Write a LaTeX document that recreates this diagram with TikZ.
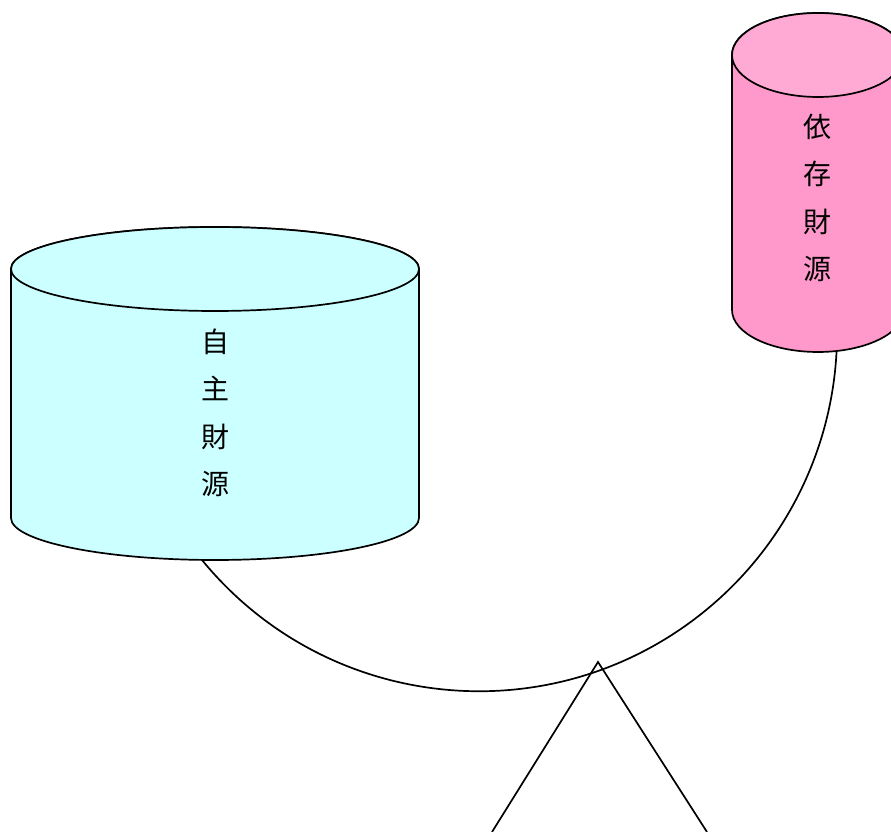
\documentclass[tikz,border=0pt]{standalone}
\usepackage{fontspec}
\newfontfamily\jpfont{Noto Sans CJK JP}
\definecolor{ownfill}{HTML}{CCFFFF}
\definecolor{depbody}{HTML}{FF99CC}
\definecolor{deptop}{HTML}{FFAAD4}
\tikzset{
  outline/.style={draw=black, line width=1.7pt, line join=round},
  vlabel/.style={font=\jpfont\fontsize{28}{47.5}\selectfont, align=center, inner sep=0pt}
}
\begin{document}
\begin{tikzpicture}[x=1pt, y=1pt]
  \useasboundingbox (0,0) rectangle (891,832);

  % balance beam: circular arc joining the two drums
  \coordinate (beamL) at (202,272);
  \draw[line width=1.7pt] (beamL) arc[start angle=219.3, end angle=357, radius=358] coordinate (beamR);

  % fulcrum
  \coordinate (pivot) at (598,170);
  \coordinate (footL) at (492,0);
  \coordinate (footR) at (707,0);
  \draw[line width=1.7pt, line join=miter] (footL) -- (pivot) -- (footR);

  % own-revenue drum
  \path[outline, fill=ownfill] (11,563) -- (11,314)
    arc[start angle=180, end angle=360, x radius=204, y radius=42]
    -- (419,563)
    arc[start angle=0, end angle=180, x radius=204, y radius=42] -- cycle;
  \path[outline, fill=ownfill] (215,563) ellipse[x radius=204, y radius=42];
  \node[vlabel] (own) at (215,419) {自\\主\\財\\源};

  % dependent-revenue drum
  \path[outline, fill=depbody] (732,777) -- (732,522)
    arc[start angle=180, end angle=360, x radius=86, y radius=42]
    -- (904,777)
    arc[start angle=0, end angle=180, x radius=86, y radius=42] -- cycle;
  \path[outline, fill=deptop] (818,777) ellipse[x radius=86, y radius=42];
  \node[vlabel] (dep) at (817,634) {依\\存\\財\\源};
\end{tikzpicture}
\end{document}
